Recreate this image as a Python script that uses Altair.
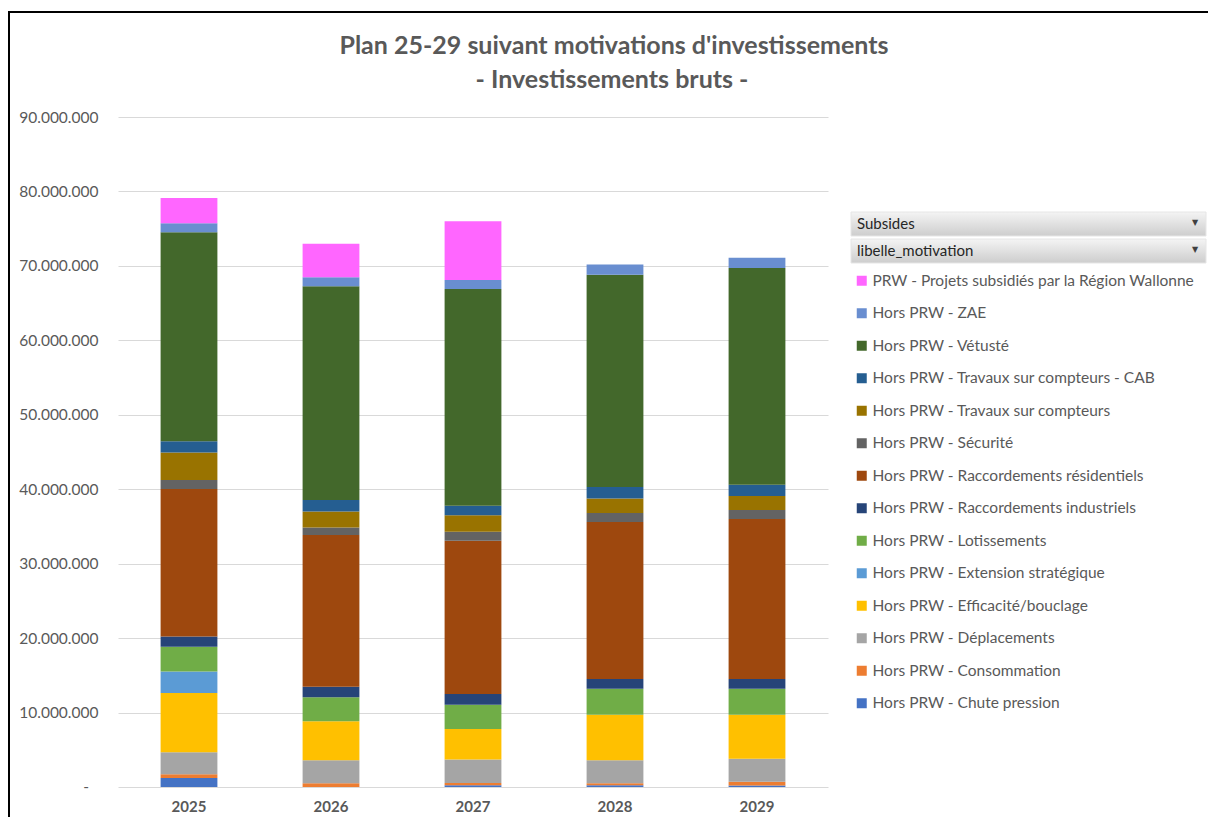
import altair as alt
import pandas as pd

# ---------------- data (millions EUR) ----------------
annees = ["2025", "2026", "2027", "2028", "2029"]

# stacking order: bottom -> top
motivations = [
    "Hors PRW - Chute pression",
    "Hors PRW - Consommation",
    "Hors PRW - Déplacements",
    "Hors PRW - Efficacité/bouclage",
    "Hors PRW - Extension stratégique",
    "Hors PRW - Lotissements",
    "Hors PRW - Raccordements industriels",
    "Hors PRW - Raccordements résidentiels",
    "Hors PRW - Sécurité",
    "Hors PRW - Travaux sur compteurs",
    "Hors PRW - Travaux sur compteurs - CAB",
    "Hors PRW - Vétusté",
    "Hors PRW - ZAE",
    "PRW - Projets subsidiés par la Région Wallonne",
]
couleurs = [
    "#4472C4", "#ED7D31", "#A5A5A5", "#FFC000", "#5B9BD5", "#70AD47",
    "#264478", "#9E480E", "#636363", "#997300", "#255E91", "#43682B",
    "#698ED0", "#FF66FF",
]

chute_pression = [1.2, 0.0, 0.25, 0.22, 0.2]
consommation = [0.5, 0.5, 0.3, 0.28, 0.5]
deplacements = [2.96, 3.1, 3.14, 3.1, 3.1]
efficacite = [7.97, 5.24, 4.1, 6.1, 5.9]
extension = [2.9, 0.0, 0.0, 0.0, 0.0]
lotissements = [3.3, 3.23, 3.25, 3.5, 3.5]
racc_industriels = [1.4, 1.39, 1.45, 1.3, 1.3]
racc_residentiels = [19.8, 20.4, 20.6, 21.1, 21.5]
securite = [1.2, 1.0, 1.2, 1.2, 1.2]
travaux_compteurs = [3.7, 2.15, 2.2, 1.95, 1.9]
travaux_cab = [1.5, 1.55, 1.3, 1.55, 1.5]
vetuste = [28.1, 28.7, 29.1, 28.5, 29.1]
zae = [1.2, 1.2, 1.2, 1.4, 1.4]
prw = [3.4, 4.5, 7.9, 0.0, 0.0]

series = [chute_pression, consommation, deplacements, efficacite, extension,
          lotissements, racc_industriels, racc_residentiels, securite,
          travaux_compteurs, travaux_cab, vetuste, zae, prw]

titre = ["Plan 25-29 suivant motivations d'investissements",
         "- Investissements bruts -"]
boutons = ["Subsides", "libelle_motivation"]

rows = []
for rang, (mot, vals) in enumerate(zip(motivations, series)):
    for an, v in zip(annees, vals):
        rows.append({"annee": an, "motivation": mot, "valeur": v, "rang": rang})
df = pd.DataFrame(rows)

legend_order = motivations[::-1]
legend_colors = couleurs[::-1]

GREY = "#595959"
FONT = "Lato"

bars = alt.Chart(df).mark_bar().encode(
    x=alt.X("annee:N", sort=annees,
            scale=alt.Scale(paddingInner=0.6, paddingOuter=0.3),
            axis=alt.Axis(title=None, labelAngle=0, labelFont=FONT,
                          labelFontWeight="bold", labelFontSize=15,
                          labelColor=GREY, ticks=False, domain=False,
                          labelPadding=12)),
    y=alt.Y("valeur:Q", stack="zero",
            scale=alt.Scale(domain=[0, 90], nice=False),
            axis=alt.Axis(title=None, values=list(range(0, 91, 10)),
                          labelExpr="datum.value == 0 ? '' : datum.value + '.000.000'",
                          grid=True, gridColor="#D9D9D9", gridWidth=1,
                          domain=False, ticks=False, tickSize=0,
                          labelPadding=20, labelFontSize=15.5,
                          labelColor=GREY, labelFont=FONT)),
    color=alt.Color("motivation:N",
                    scale=alt.Scale(domain=legend_order, range=legend_colors),
                    legend=alt.Legend(title=None, orient="none",
                                      legendX=736, legendY=156,
                                      symbolType="square", symbolSize=100,
                                      symbolStrokeWidth=0,
                                      labelFontSize=15.5, labelFont=FONT,
                                      labelColor=GREY, labelLimit=400,
                                      labelOffset=3, rowPadding=15.5,
                                      padding=0)),
    order=alt.Order("rang:Q", sort="ascending"),
)

one = alt.Data(values=[{"k": 1}])

# zero label of the value axis ("-"), placed through the y scale
zero_lbl = alt.Chart(one).mark_text(text="-", align="center", baseline="middle",
                                    font=FONT, fontSize=15.5, color=GREY).encode(
    x=alt.value(-32), y=alt.datum(0))

grad = alt.Gradient(gradient="linear",
                    stops=[alt.GradientStop(color="#F4F4F4", offset=0),
                           alt.GradientStop(color="#CDCDCD", offset=1)],
                    x1=0, x2=0, y1=0, y2=1)

def bouton(label, y0):
    r = alt.Chart(one).mark_rect(color=grad, stroke="#E6E6E6", strokeWidth=1).encode(
        x=alt.value(733), x2=alt.value(1088), y=alt.value(y0), y2=alt.value(y0 + 24))
    t = alt.Chart(one).mark_text(text=label, align="left", baseline="middle",
                                 font=FONT, fontSize=15, color="#262626").encode(
        x=alt.value(739), y=alt.value(y0 + 12))
    a = alt.Chart(one).mark_text(text="▼", align="center", baseline="middle",
                                 font="DejaVu Sans", fontSize=8, color="#404040").encode(
        x=alt.value(1077), y=alt.value(y0 + 11))
    return [r, t, a]

deco = bouton(boutons[0], 95) + bouton(boutons[1], 122)

titre1 = alt.Chart(one).mark_text(text=titre[0], align="center", baseline="middle",
                                  font=FONT, fontSize=25, fontWeight="bold",
                                  color=GREY).encode(
    x=alt.value(496), y=alt.value(-71))
titre2 = alt.Chart(one).mark_text(text=titre[1], align="center", baseline="middle",
                                  font=FONT, fontSize=25, fontWeight="bold",
                                  color=GREY).encode(
    x=alt.value(494), y=alt.value(-37))

border_top = alt.Chart(one).mark_rule(color="black", strokeWidth=2).encode(
    x=alt.value(-109), x2=alt.value(1100), y=alt.value(-105))
border_left = alt.Chart(one).mark_rule(color="black", strokeWidth=2).encode(
    x=alt.value(-109), y=alt.value(-106), y2=alt.value(720))

chart = alt.layer(bars, zero_lbl, *deco, titre1, titre2, border_top, border_left).properties(
    width=710, height=670,
    padding={"left": 110, "top": 109, "right": 380, "bottom": 30},
    autosize=alt.AutoSizeParams(type="none"),
    background="white",
).configure_view(stroke=None)

chart.save("out.html", embed_options={"renderer": "svg", "actions": False})
